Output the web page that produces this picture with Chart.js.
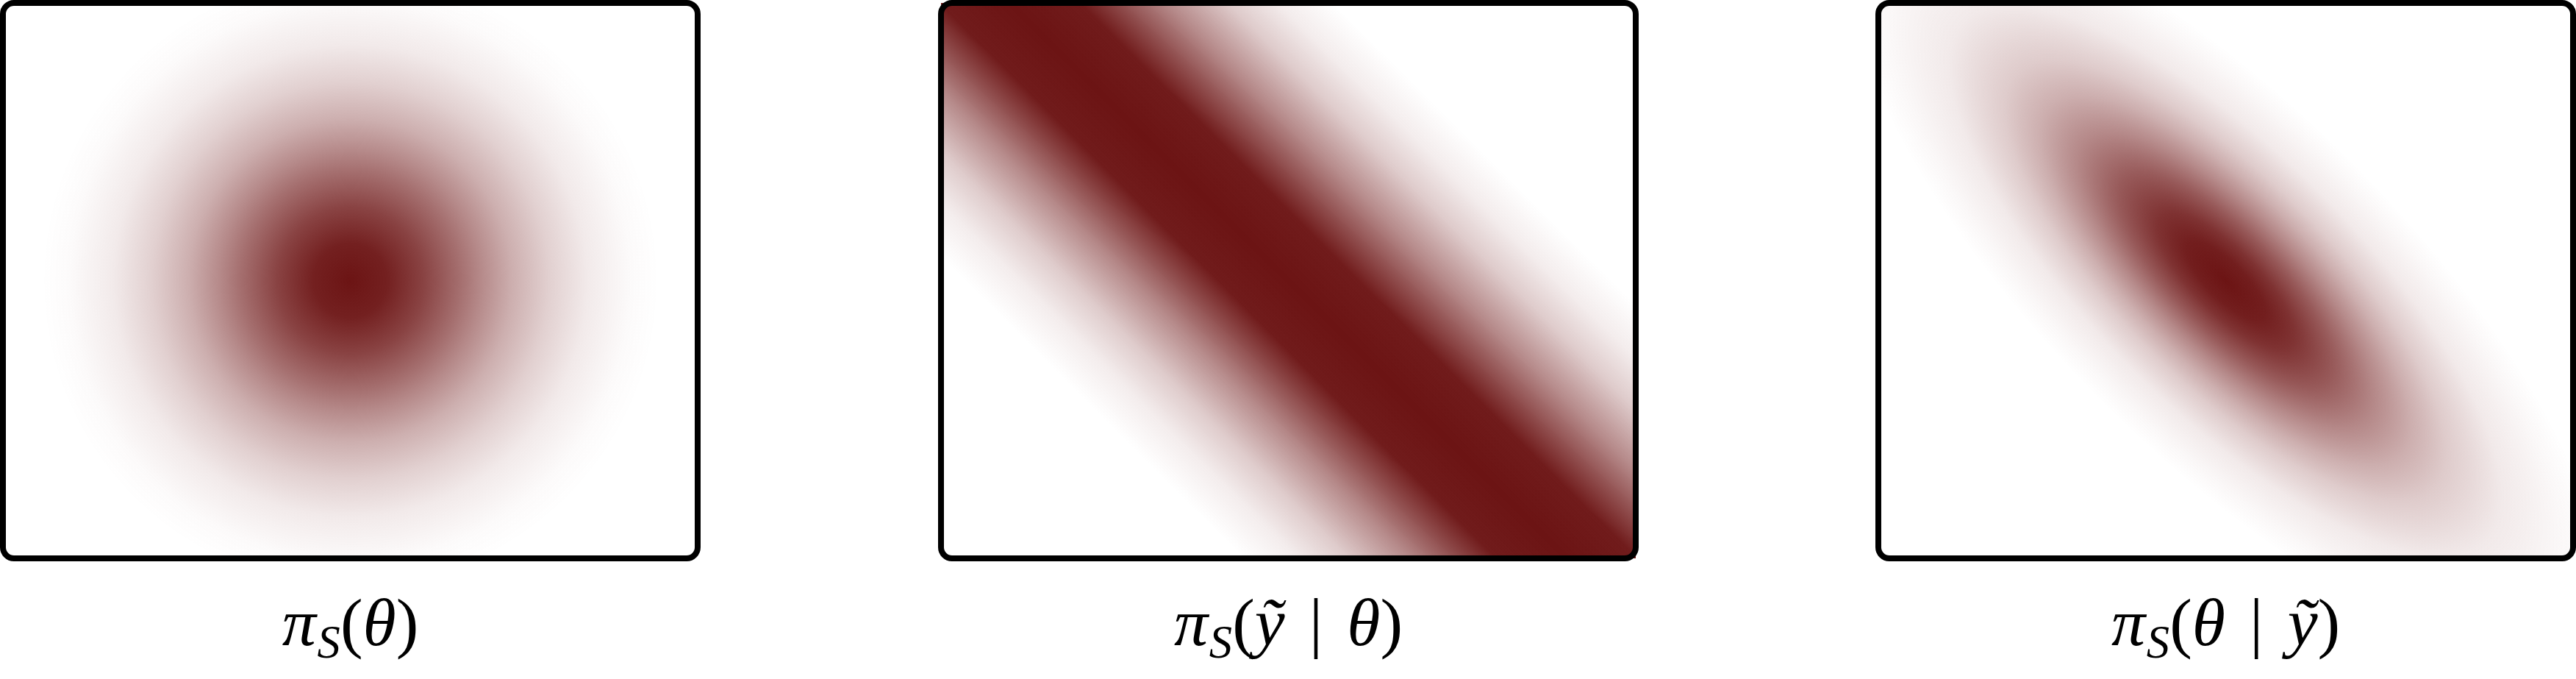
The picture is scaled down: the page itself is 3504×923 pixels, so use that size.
<!DOCTYPE html>
<html>
<head>
<meta charset="utf-8">
<script src="https://cdn.jsdelivr.net/npm/chart.js@4.4.1/dist/chart.umd.min.js"></script>
<style>
    body { margin: 0; width: 3504px; height: 923px; background: #fff; position: relative; overflow: hidden; }
    .panel { position: absolute; top: 0; width: 953px; height: 763px; }
    .label {
        position: absolute; top: 800px; width: 953px; text-align: center;
        font-family: "Liberation Serif", "DejaVu Serif", serif; font-size: 92px; line-height: 1; color: #000;
    }
    .label i { font-style: italic; }
    .label .sub { font-size: 0.68em; font-style: italic; position: relative; top: 0.27em; margin-left: 0.03em; }
    .label .bar { margin: 0 0.36em; }
</style>
</head>
<body>
<div class="panel" style="left:0px"><canvas id="prior" width="953" height="763"></canvas></div>
<div class="panel" style="left:1276px"><canvas id="likelihood" width="953" height="763"></canvas></div>
<div class="panel" style="left:2551px"><canvas id="posterior" width="953" height="763"></canvas></div>
<div class="label" style="left:0px"><i>π</i><span class="sub">S</span>(<i>θ</i>)</div>
<div class="label" style="left:1276px"><i>π</i><span class="sub">S</span>(<i>ỹ</i><span class="bar">|</span><i>θ</i>)</div>
<div class="label" style="left:2551px"><i>π</i><span class="sub">S</span>(<i>θ</i><span class="bar">|</span><i>ỹ</i>)</div>
<script>
// colour of the densest region
const densityColor = [108, 20, 20];

// prior: round blob in the middle, radius (data units) -> opacity
const priorCenter = [0, 0];
const priorRadius = [0, 0.134, 0.267, 0.40, 0.473, 0.588, 0.722, 0.86, 1.02, 1.12];
const priorAlpha  = [1, 0.95, 0.8, 0.61, 0.5, 0.34, 0.2, 0.09, 0.02, 0];

// likelihood: band at 45 degrees, distance from its axis -> opacity
const bandCenter = [0, 0];
const bandAxis = [1, -1];
const bandOffset = [0, 0.18, 0.27, 0.40, 0.56, 0.69, 0.83];
const bandAlpha  = [1, 0.97, 0.78, 0.5, 0.22, 0.08, 0];

// posterior: tilted ellipse, distance along the long axis -> opacity
const postCenter = [0, 0];
const postAxis = [1, -1];
const postWidth = 0.35;
const postRadius = [0, 0.19, 0.33, 0.52, 0.72, 0.9, 1.07, 1.34, 1.62, 1.8];
const postAlpha  = [1, 0.955, 0.87, 0.7, 0.5, 0.34, 0.22, 0.09, 0.03, 0];

function rgba(a) {
    return "rgba(" + densityColor.join(",") + "," + a + ")";
}

// pixel frame of an axis given in data units
function axisFrame(chart, center, dir, ratio) {
    const { x, y } = chart.scales;
    const len = Math.hypot(dir[0], dir[1]);
    const u = [dir[0] / len, dir[1] / len];
    const v = [-u[1] * ratio, u[0] * ratio];
    const c = [x.getPixelForValue(center[0]), y.getPixelForValue(center[1])];
    const U = [x.getPixelForValue(center[0] + u[0]) - c[0], y.getPixelForValue(center[1] + u[1]) - c[1]];
    const V = [x.getPixelForValue(center[0] + v[0]) - c[0], y.getPixelForValue(center[1] + v[1]) - c[1]];
    return { c, U, V };
}

const densityPlugin = {
    id: "density",
    beforeDatasetsDraw(chart, args, opts) {
        const ctx = chart.ctx;
        const w = chart.width, h = chart.height;
        ctx.save();
        ctx.beginPath();
        ctx.rect(4, 4, w - 8, h - 8);
        ctx.clip();
        const f = axisFrame(chart, opts.center, opts.axis, opts.ratio);
        ctx.transform(f.U[0], f.U[1], f.V[0], f.V[1], f.c[0], f.c[1]);
        const r = opts.radius, a = opts.alpha;
        const rMax = r[r.length - 1];
        let g;
        if (opts.kind === "band") {
            g = ctx.createLinearGradient(0, -rMax, 0, rMax);
            for (let i = r.length - 1; i >= 0; i--) g.addColorStop(0.5 - r[i] / (2 * rMax), rgba(a[i]));
            for (let i = 1; i < r.length; i++) g.addColorStop(0.5 + r[i] / (2 * rMax), rgba(a[i]));
        } else {
            g = ctx.createRadialGradient(0, 0, 0, 0, 0, rMax);
            r.forEach((ri, i) => g.addColorStop(ri / rMax, rgba(a[i])));
        }
        ctx.fillStyle = g;
        ctx.fillRect(-8, -8, 16, 16);
        ctx.restore();
    },
    afterDraw(chart) {
        const ctx = chart.ctx;
        ctx.save();
        ctx.lineWidth = 8;
        ctx.strokeStyle = "#000";
        ctx.beginPath();
        ctx.roundRect(4, 4, chart.width - 8, chart.height - 8, 15);
        ctx.stroke();
        ctx.restore();
    }
};

function makePanel(id, density) {
    return new Chart(document.getElementById(id), {
        type: "scatter",
        data: { datasets: [{ data: [{ x: density.center[0], y: density.center[1] }], pointRadius: 0 }] },
        options: {
            responsive: false,
            devicePixelRatio: 1,
            animation: false,
            layout: { padding: 8 },
            scales: {
                x: { type: "linear", min: -1.25, max: 1.25, display: false },
                y: { type: "linear", min: -1, max: 1, display: false }
            },
            plugins: {
                legend: { display: false },
                tooltip: { enabled: false },
                density: density
            }
        },
        plugins: [densityPlugin]
    });
}

makePanel("prior", { kind: "blob", center: priorCenter, axis: [1, 0], ratio: 1, radius: priorRadius, alpha: priorAlpha });
makePanel("likelihood", { kind: "band", center: bandCenter, axis: bandAxis, ratio: 1, radius: bandOffset, alpha: bandAlpha });
makePanel("posterior", { kind: "blob", center: postCenter, axis: postAxis, ratio: postWidth, radius: postRadius, alpha: postAlpha });
</script>
</body>
</html>
